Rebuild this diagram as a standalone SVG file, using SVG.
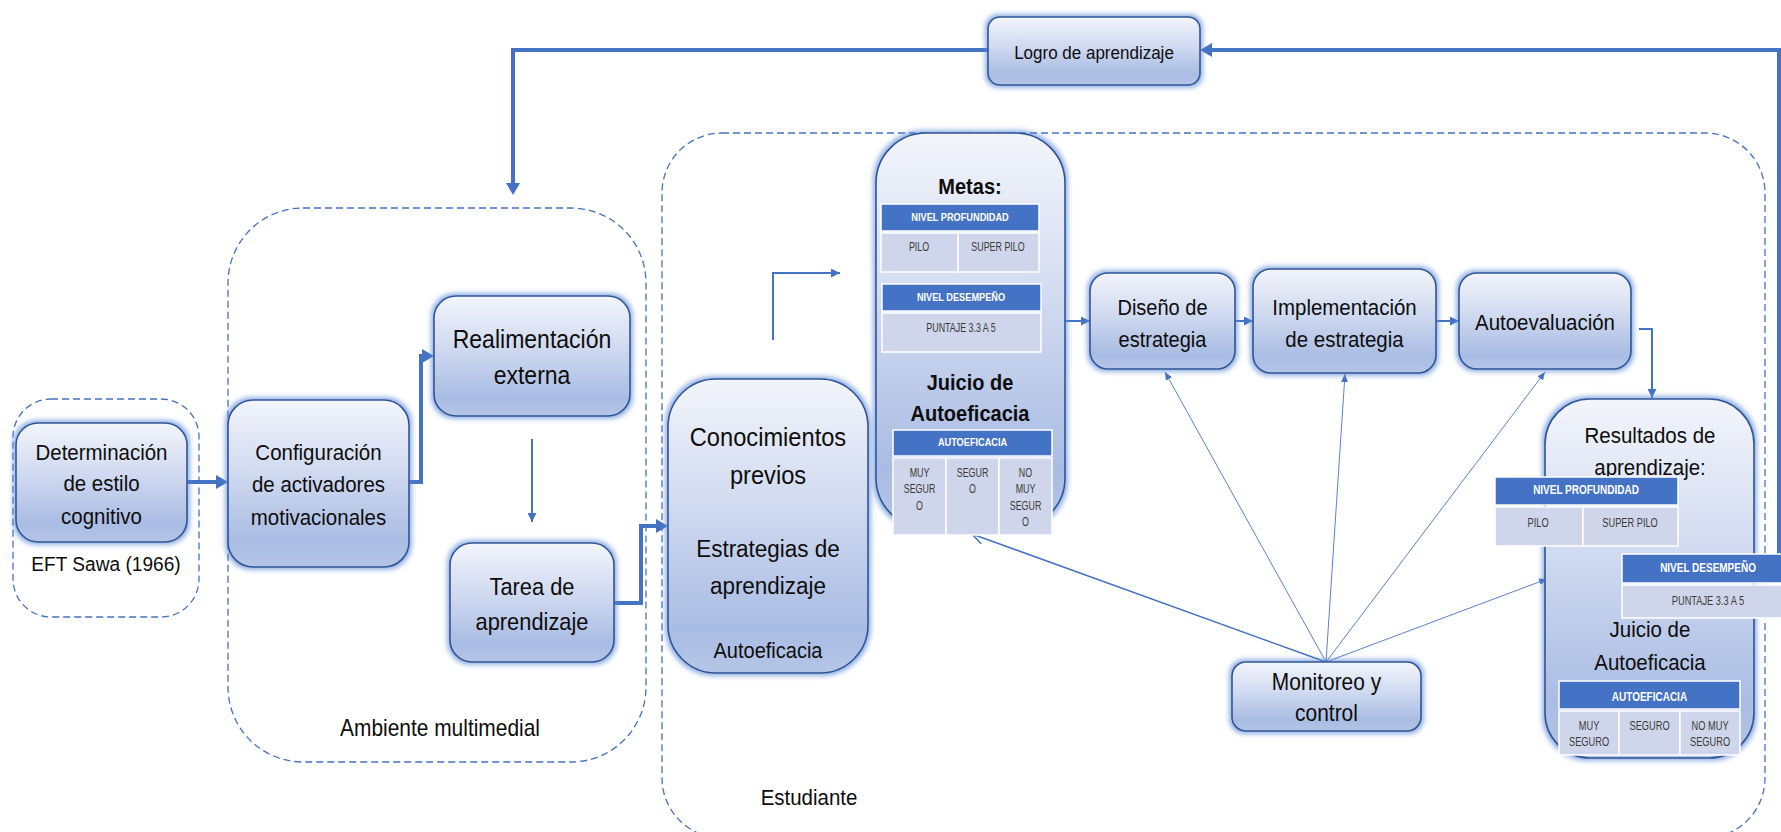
<svg xmlns="http://www.w3.org/2000/svg" width="1781" height="832" viewBox="0 0 1781 832">
<style>
.bg{fill:#ffffff}
.box{fill:url(#g);stroke:#2f5597;stroke-width:1.6;filter:url(#glow)}
.dash{fill:none;stroke:#4472c4;stroke-width:1.3;stroke-dasharray:7 4}
.t{font-family:"Liberation Sans",Arial,sans-serif;fill:#0d0d0d;text-anchor:middle;transform-box:fill-box;transform-origin:center;transform:scaleX(0.91)}
.b{font-weight:bold}
.th{fill:#4472c4;stroke:#ffffff;stroke-width:1.5}
.tb{fill:#cfd5ea;stroke:#ffffff;stroke-width:1.5}
.tht{font-family:"Liberation Sans",Arial,sans-serif;fill:#ffffff;font-weight:bold;text-anchor:middle;transform-box:fill-box;transform-origin:center;transform:scaleX(0.8)}
.tbt{font-family:"Liberation Sans",Arial,sans-serif;fill:#3a3a3a;text-anchor:middle;transform-box:fill-box;transform-origin:center;transform:scaleX(0.74)}
.thick{fill:none;stroke:#4472c4;stroke-width:4}
.thin{fill:none;stroke:#4472c4;stroke-width:2}
.fan{fill:none;stroke:#5a82cc;stroke-width:1}
</style>
<defs>
<linearGradient id="g" x1="0" y1="0" x2="0" y2="1">
<stop offset="0" stop-color="#f3f5fb"/>
<stop offset="0.5" stop-color="#cad5ee"/>
<stop offset="0.85" stop-color="#a9bce3"/>
<stop offset="1" stop-color="#b5c5e7"/>
</linearGradient>
<filter id="glow" x="-15%" y="-15%" width="130%" height="130%">
<feMorphology in="SourceAlpha" operator="dilate" radius="2" result="d"/>
<feGaussianBlur in="d" stdDeviation="2.5" result="bl"/>
<feFlood flood-color="#5b8ad6" flood-opacity="0.7"/>
<feComposite in2="bl" operator="in" result="gl"/>
<feMerge><feMergeNode in="gl"/><feMergeNode in="SourceGraphic"/></feMerge>
</filter>
<marker id="ahThick" markerUnits="userSpaceOnUse" markerWidth="12" markerHeight="14" viewBox="0 0 12 14" refX="0" refY="7" orient="auto"><path d="M0,0 L12,7 L0,14 z" fill="#4472c4"/></marker>
<marker id="ahMed" markerUnits="userSpaceOnUse" markerWidth="9" markerHeight="9" viewBox="0 0 9 9" refX="9" refY="4.5" orient="auto"><path d="M0,0 L9,4.5 L0,9 z" fill="#4472c4"/></marker>
<marker id="ahSmall" markerUnits="userSpaceOnUse" markerWidth="8" markerHeight="7" viewBox="0 0 8 7" refX="8" refY="3.5" orient="auto"><path d="M0,0 L8,3.5 L0,7 z" fill="#4472c4"/></marker>
<marker id="ahOpen" markerUnits="userSpaceOnUse" markerWidth="14" markerHeight="14" viewBox="0 0 14 14" refX="13" refY="7" orient="auto"><path d="M1,1 L13,7 L1,13" fill="none" stroke="#4472c4" stroke-width="1.5"/></marker>
</defs>
<rect class="bg" x="0" y="0" width="1781" height="832"/>

<g id="containers">
<rect class="dash" x="13" y="399" width="186" height="218" rx="38"/>
<rect class="dash" x="228" y="208" width="418" height="554" rx="75"/>
<rect class="dash" x="662" y="133" width="1103" height="705" rx="60"/>
<text class="t" x="106" y="570.6" font-size="21">EFT Sawa (1966)</text>
<text class="t" x="440" y="736" font-size="23">Ambiente multimedial</text>
<text class="t" x="809" y="805" font-size="22.5">Estudiante</text>
</g>

<g id="connectors">
<path class="thick" d="M187,482 H216" marker-end="url(#ahThick)"/>
<path class="thick" d="M409,482 H421 V356 H422" marker-end="url(#ahThick)"/>
<path class="thin" d="M532,439 V522" marker-end="url(#ahMed)"/>
<path class="thick" d="M614,603 H641 V526 H656" marker-end="url(#ahThick)"/>
<path class="thin" d="M773,340 V273 H840" marker-end="url(#ahMed)"/>
<path class="thin" d="M1065,321 H1090" marker-end="url(#ahMed)"/>
<path class="thin" d="M1235,321 H1253" marker-end="url(#ahMed)"/>
<path class="thin" d="M1436,321 H1459" marker-end="url(#ahMed)"/>
<path class="thin" d="M1639,329 H1652 V398" marker-end="url(#ahMed)"/>
<path class="thick" d="M1779,556 V50 H1212" marker-end="url(#ahThick)"/>
<path class="thick" d="M988,50 H513 V183" marker-end="url(#ahThick)"/>
<path class="fan" d="M1326,662 L1165,372" marker-end="url(#ahSmall)"/>
<path class="fan" d="M1326,662 L1345,374" marker-end="url(#ahSmall)"/>
<path class="fan" d="M1326,662 L1545,372" marker-end="url(#ahSmall)"/>
<path class="fan" d="M1326,662 L1547,579" marker-end="url(#ahSmall)"/>
<path class="fan" style="stroke:#4472c4;stroke-width:1.5" d="M1326,662 L972,534" marker-end="url(#ahOpen)"/>
</g>

<g id="logro">
<rect class="box" x="988" y="17" width="212" height="68" rx="12"/>
<text class="t" x="1094" y="58.7" font-size="18.7">Logro de aprendizaje</text>
</g>

<g id="determinacion">
<rect class="box" x="16" y="423" width="171" height="119" rx="22"/>
<text class="t" x="101.5" y="460" font-size="22.5">Determinación</text>
<text class="t" x="101.5" y="491" font-size="22.5">de estilo</text>
<text class="t" x="101.5" y="524" font-size="22.5">cognitivo</text>
</g>

<g id="configuracion">
<rect class="box" x="228" y="400" width="181" height="167" rx="25"/>
<text class="t" x="318.5" y="460" font-size="22.5">Configuración</text>
<text class="t" x="318.5" y="492" font-size="22.5">de activadores</text>
<text class="t" x="318.5" y="525" font-size="22.5">motivacionales</text>
</g>

<g id="realimentacion">
<rect class="box" x="434" y="296" width="196" height="120" rx="22"/>
<text class="t" x="532" y="348" font-size="25.3">Realimentación</text>
<text class="t" x="532" y="384" font-size="25.3">externa</text>
</g>

<g id="tarea">
<rect class="box" x="450" y="543" width="164" height="119" rx="22"/>
<text class="t" x="532" y="594.6" font-size="24">Tarea de</text>
<text class="t" x="532" y="629.6" font-size="24">aprendizaje</text>
</g>

<g id="conocimientos">
<rect class="box" x="668" y="379" width="200" height="294" rx="48"/>
<text class="t" x="768" y="446" font-size="26">Conocimientos</text>
<text class="t" x="768" y="484" font-size="26">previos</text>
<text class="t" x="768" y="557" font-size="24.7">Estrategias de</text>
<text class="t" x="768" y="594" font-size="24.7">aprendizaje</text>
<text class="t" x="768" y="658" font-size="22">Autoeficacia</text>
</g>

<g id="metas">
<rect class="box" x="876" y="133" width="189" height="395" rx="50"/>
<text class="t b" x="970" y="194" font-size="22">Metas:</text>
<rect class="th" x="881" y="204" width="158" height="27"/>
<rect class="tb" x="881" y="233" width="77" height="39"/>
<rect class="tb" x="958" y="233" width="81" height="39"/>
<text class="tht" x="960" y="221" font-size="11.5">NIVEL PROFUNDIDAD</text>
<text class="tbt" x="919" y="251.3" font-size="12">PILO</text>
<text class="tbt" x="998" y="251.3" font-size="12">SUPER PILO</text>
<rect class="th" x="882" y="284" width="159" height="27"/>
<rect class="tb" x="882" y="313" width="159" height="39"/>
<text class="tht" x="961" y="301" font-size="11.5">NIVEL DESEMPEÑO</text>
<text class="tbt" x="961" y="332.3" font-size="12">PUNTAJE 3.3 A 5</text>
<text class="t b" x="970" y="390" font-size="22">Juicio de</text>
<text class="t b" x="970" y="421" font-size="22">Autoeficacia</text>
<rect class="th" x="893" y="430" width="159" height="26"/>
<rect class="tb" x="893" y="458" width="53" height="77"/>
<rect class="tb" x="946" y="458" width="53" height="77"/>
<rect class="tb" x="999" y="458" width="53" height="77"/>
<text class="tht" x="972.5" y="446.5" font-size="11.5">AUTOEFICACIA</text>
<text class="tbt" x="919.5" y="477.3" font-size="12">MUY</text>
<text class="tbt" x="919.5" y="493.3" font-size="12">SEGUR</text>
<text class="tbt" x="919.5" y="510.3" font-size="12">O</text>
<text class="tbt" x="972.5" y="477.3" font-size="12">SEGUR</text>
<text class="tbt" x="972.5" y="493.3" font-size="12">O</text>
<text class="tbt" x="1025.5" y="477.3" font-size="12">NO</text>
<text class="tbt" x="1025.5" y="493.3" font-size="12">MUY</text>
<text class="tbt" x="1025.5" y="510.3" font-size="12">SEGUR</text>
<text class="tbt" x="1025.5" y="526.3" font-size="12">O</text>
</g>

<g id="diseno">
<rect class="box" x="1090" y="273" width="145" height="96" rx="18"/>
<text class="t" x="1162.5" y="315" font-size="22">Diseño de</text>
<text class="t" x="1162.5" y="347" font-size="22">estrategia</text>
</g>

<g id="implementacion">
<rect class="box" x="1253" y="269" width="183" height="104" rx="18"/>
<text class="t" x="1344.5" y="315" font-size="22.5">Implementación</text>
<text class="t" x="1344.5" y="347" font-size="22.5">de estrategia</text>
</g>

<g id="autoevaluacion">
<rect class="box" x="1459" y="273" width="172" height="96" rx="18"/>
<text class="t" x="1545" y="330" font-size="22.5">Autoevaluación</text>
</g>

<g id="resultados">
<rect class="box" x="1545" y="399" width="209" height="359" rx="45"/>
<text class="t" x="1650" y="443" font-size="22.5">Resultados de</text>
<text class="t" x="1650" y="475" font-size="22.5">aprendizaje:</text>
<rect class="th" x="1495" y="477" width="183" height="28"/>
<rect class="tb" x="1495" y="507" width="88" height="39"/>
<rect class="tb" x="1583" y="507" width="95" height="39"/>
<text class="tht" x="1586" y="494.5" font-size="12.5">NIVEL PROFUNDIDAD</text>
<text class="tbt" x="1538" y="527.5" font-size="12.5">PILO</text>
<text class="tbt" x="1630" y="527.5" font-size="12.5">SUPER PILO</text>
<rect class="th" x="1622" y="554" width="161" height="29"/>
<rect class="tb" x="1622" y="585" width="161" height="33"/>
<text class="tht" x="1708" y="572.5" font-size="12.5">NIVEL DESEMPEÑO</text>
<text class="tbt" x="1708" y="605.5" font-size="12.5">PUNTAJE 3.3 A 5</text>
<text class="t" x="1650" y="637" font-size="22.5">Juicio de</text>
<text class="t" x="1650" y="670" font-size="22.5">Autoeficacia</text>
<rect class="th" x="1559" y="681" width="181" height="28"/>
<rect class="tb" x="1559" y="711" width="60" height="44"/>
<rect class="tb" x="1619" y="711" width="61" height="44"/>
<rect class="tb" x="1680" y="711" width="60" height="44"/>
<text class="tht" x="1649.5" y="701.5" font-size="12.5">AUTOEFICACIA</text>
<text class="tbt" x="1589" y="730.5" font-size="12.5">MUY</text>
<text class="tbt" x="1589" y="746.5" font-size="12.5">SEGURO</text>
<text class="tbt" x="1649.5" y="730.5" font-size="12.5">SEGURO</text>
<text class="tbt" x="1710" y="730.5" font-size="12.5">NO MUY</text>
<text class="tbt" x="1710" y="746.5" font-size="12.5">SEGURO</text>
</g>

<g id="monitoreo">
<rect class="box" x="1232" y="662" width="189" height="69" rx="14"/>
<text class="t" x="1326.5" y="690" font-size="23">Monitoreo y</text>
<text class="t" x="1326.5" y="721" font-size="23">control</text>
</g>
</svg>
